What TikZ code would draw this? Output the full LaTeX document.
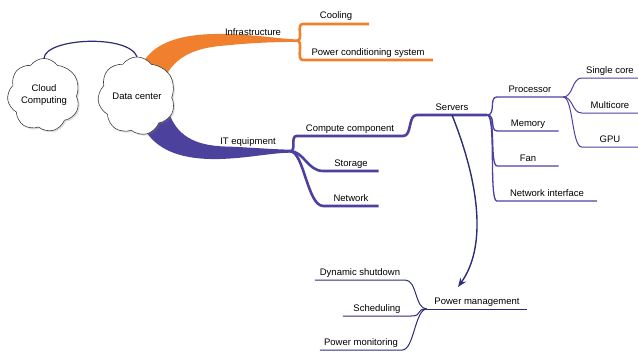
\documentclass[tikz,border=0pt]{standalone}
\usepackage{fontspec}
\setmainfont{Liberation Sans}
\usetikzlibrary{shapes.symbols,shadows,arrows.meta}

\definecolor{infraorange}{RGB}{240,128,46}
\definecolor{itpurple}{RGB}{76,66,158}
\definecolor{linknavy}{RGB}{44,44,120}

\tikzset{
  bubble/.style={cloud, cloud puffs=7.4, cloud puff arc=110, draw=black!75,
    fill=white, line width=0.6pt, align=center, inner sep=0pt,
    font=\fontsize{9.5}{12}\selectfont,
    drop shadow={opacity=0.25, shadow xshift=1.5pt, shadow yshift=-1.5pt}},
  leaf/.style={anchor=south, font=\fontsize{9.5}{11}\selectfont,
    text height=7pt, text depth=2pt, inner ysep=2.8pt, inner xsep=0pt},
  orangeline/.style={draw=infraorange, line width=2.6pt},
  purpleline/.style={draw=itpurple, line width=2.6pt},
  thinline/.style={draw=itpurple, line width=1.3pt},
}

\begin{document}
\begin{tikzpicture}[x=1pt, y=-1pt]
      \useasboundingbox (0,0) rectangle (638,356);

      % thick branch to the infrastructure
      \fill[infraorange] (136,82) .. controls (142,45) and (175,33) .. (225,34)
      .. controls (260,35) and (280,39) .. (297,39.4)
      -- (297,41.9) .. controls (270,42) and (250,43) .. (225,45.5)
      .. controls (192,48) and (172,58) .. (162,84) -- cycle;
      \node[leaf] (infra) at (253,40) {Infrastructure};
      \coordinate (infra split) at (297,40.6);

      % thick branch to the IT equipment
      \fill[itpurple] (137,110) .. controls (146,150) and (180,160) .. (220,159)
      .. controls (250,158) and (270,153) .. (290,152.7)
      -- (290,149.7) .. controls (265,149) and (245,147) .. (225,146.5)
      .. controls (195,145.5) and (176,136) .. (168,110) -- cycle;
      \node[leaf] (itequip) at (248,149) {IT equipment};
      \coordinate (it split) at (290,151.2);

      % the two clouds
      \node[bubble, minimum width=72pt, minimum height=56pt] (cloudcomp)
      at (44,95) {Cloud\\Computing};
      \node[bubble, minimum width=78pt, minimum height=48pt] (datacenter)
      at (137,96) {Data center};
      \draw[linknavy, line width=1.2pt] (cloudcomp.north)
      .. controls (46,38) and (128,34) .. (datacenter.north);

      % infrastructure leaves
      \node[leaf, minimum width=66pt] (cool) at (336,24) {Cooling};
      \node[leaf, minimum width=130pt] (pcs) at (368,60)
      {Power conditioning system};
      \draw[orangeline] (infra split) .. controls +(7,0) and +(-7,0) ..
      (cool.south west) -- (cool.south east);
      \draw[orangeline] (infra split) .. controls +(7,0) and +(-7,0) ..
      (pcs.south west) -- (pcs.south east);

      % IT equipment leaves
      \node[leaf, minimum width=106pt] (compute) at (350,136) {Compute component};
      \node[leaf, minimum width=55pt] (storage) at (351,171) {Storage};
      \node[leaf, minimum width=55pt] (network) at (351,206) {Network};
      \node[leaf, minimum width=70pt] (servers) at (452,115) {Servers};
      \draw[purpleline] (it split) .. controls +(7,0) and +(-7,0) ..
      (compute.south west) -- (compute.south east)
      .. controls +(9,0) and +(-9,0) .. (servers.south west)
      -- (servers.south east);
      \draw[purpleline] (it split) .. controls +(14,0) and +(-16,0) ..
      (storage.south west) -- (storage.south east);
      \draw[purpleline] (it split) .. controls +(14,0) and +(-16,0) ..
      (network.south west) -- (network.south east);

      % parts of the servers
      \node[leaf, minimum width=66pt] (processor) at (530,97) {Processor};
      \node[leaf, minimum width=61pt] (memory) at (528,131) {Memory};
      \node[leaf, minimum width=61pt] (fan) at (528,166) {Fan};
      \node[leaf, minimum width=100pt] (netif) at (547,201) {Network interface};
      \foreach \part in {processor, memory, fan, netif}
        \draw[thinline] (servers.south east) .. controls +(9,0) and +(-8,0) ..
        (\part.south west) -- (\part.south east);

      % kinds of processor
      \node[leaf, minimum width=56pt] (single) at (610,78) {Single core};
      \node[leaf, minimum width=56pt] (multi) at (610,113) {Multicore};
      \node[leaf, minimum width=56pt] (gpu) at (610,147) {GPU};
      \foreach \kind in {single, multi, gpu}
        \draw[thinline, line width=1pt] (processor.south east)
        .. controls +(10,0) and +(-10,0) .. (\kind.south west) -- (\kind.south east);

      % power management and its leaves
      \node[leaf, minimum width=100pt] (powerman) at (477,309) {Power management};
      \node[leaf, minimum width=90pt] (dynshut) at (360,280) {Dynamic shutdown};
      \node[leaf, minimum width=68pt] (sched) at (377,316) {Scheduling};
      \node[leaf, minimum width=82pt] (powmon) at (361,350) {Power monitoring};
      \draw[linknavy, line width=1pt] (powerman.south west) -- (powerman.south east);
      \foreach \task in {dynshut, sched, powmon}
        \draw[linknavy, line width=1pt] (powerman.south west)
        .. controls +(-12,0) and +(12,0) .. (\task.south east) -- (\task.south west);

      % servers are managed for power
      \coordinate (pm tip) at (458,287);
      \draw[linknavy, line width=1.4pt, -{Stealth[length=9pt, width=7pt]}]
      (servers.south) .. controls (478,180) and (488,245) .. (pm tip);
\end{tikzpicture}
\end{document}
